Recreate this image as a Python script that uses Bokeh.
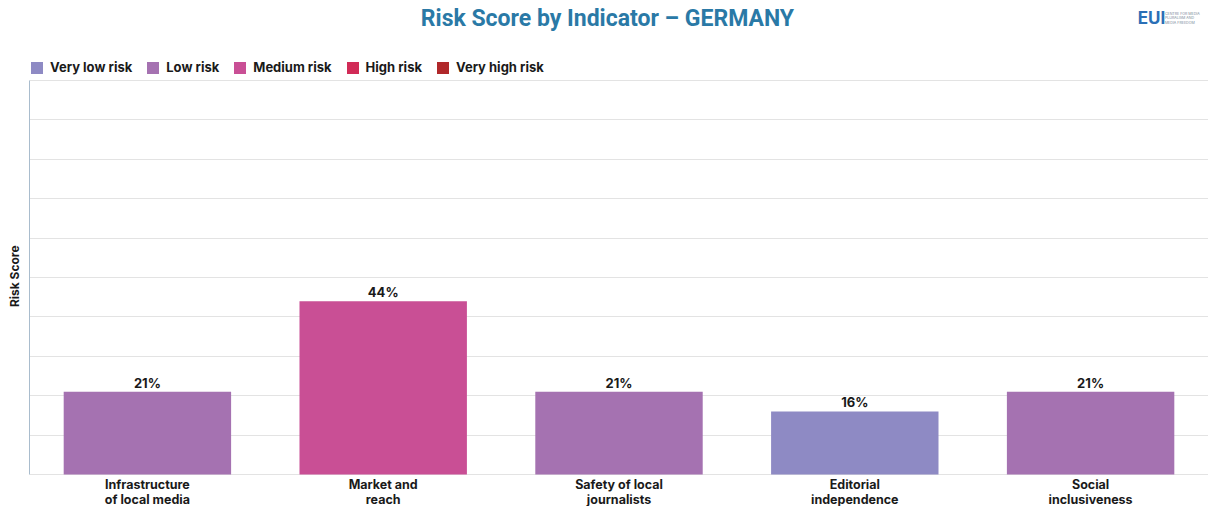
from bokeh.plotting import figure
from bokeh.models import ColumnDataSource, Range1d, FixedTicker, Legend, LegendItem, Label
from bokeh.core.properties import value
from bokeh.embed import file_html
from bokeh.resources import INLINE

# ---- data ----
indicators = ["Infrastructure of local media", "Market and reach", "Safety of local journalists",
              "Editorial independence", "Social inclusiveness"]
tick_labels = ["Infrastructure\nof local media", "Market and\nreach", "Safety of local\njournalists",
               "Editorial\nindependence", "Social\ninclusiveness"]
scores = [21, 44, 21, 16, 21]
risk_levels = ["Low risk", "Medium risk", "Low risk", "Very low risk", "Low risk"]
level_names = ["Very low risk", "Low risk", "Medium risk", "High risk", "Very high risk"]
level_colors = ["#8e8ac4", "#a572b1", "#c94f95", "#d12b57", "#b0282a"]
grid_ticks = [0, 10, 20, 30, 40, 50, 60, 70, 80, 90, 100]

FONT = "Inter"

color_of = dict(zip(level_names, level_colors))
source = ColumnDataSource(dict(ind=indicators, score=scores, level=risk_levels,
                               color=[color_of[l] for l in risk_levels],
                               lab=[f"{s}%" for s in scores], tick=tick_labels))

# frame covers the whole canvas right of the y axis; the 0-100 scale sits in its middle
p = figure(x_range=indicators, y_range=Range1d(-8.12, 120.3), width=1208, height=506,
           title=None, output_backend="svg", toolbar_location=None,
           min_border_left=29, min_border_right=0, min_border_bottom=0, min_border_top=0)
p.outline_line_color = None
p.background_fill_color = "white"
p.border_fill_color = "white"

p.vbar(x="ind", top="score", width=0.71, source=source, fill_color="color", line_color=None)

# legend proxies (zero-height, one per risk level)
items = []
for name, col in zip(level_names, level_colors):
    r = p.vbar(x=[indicators[0]], top=[0], bottom=[0], width=0.0,
               fill_color=col, line_color=None)
    items.append(LegendItem(label=name, renderers=[r]))

# value labels above bars
p.text(x="ind", y="score", text="lab", source=source, text_align="center",
       text_baseline="bottom", y_offset=-1, text_font=value(FONT), text_font_style="bold",
       text_font_size="13px", text_color="#1a1a1a")

# category labels (two lines) under the bars
p.text(x="ind", y=0, text="tick", source=source, text_align="center",
       text_baseline="top", y_offset=2, text_font=value(FONT), text_font_style="bold",
       text_font_size="12.5px", text_color="#1a1a1a", text_line_height=1.0)

legend = Legend(items=items, orientation="horizontal", location=(0, 431))
legend.label_text_font = FONT
legend.label_text_font_style = "bold"
legend.label_text_font_size = "13px"
legend.label_text_color = "#1a1a1a"
legend.glyph_width = 15
legend.glyph_height = 15
legend.label_standoff = 6
legend.spacing = 13
legend.padding = 7
legend.margin = 0
legend.border_line_color = None
legend.background_fill_alpha = 0
p.add_layout(legend)

# title and logo
p.add_layout(Label(x=2.451, y=115.74, text="Risk Score by Indicator \u2013 GERMANY",
                   text_align="center", text_baseline="middle", text_font="Roboto",
                   text_font_size="23px", text_font_style="bold", text_color="#2a79a6"))
p.add_layout(Label(x=4.70, y=115.74, text="EUI", text_align="left", text_baseline="middle",
                   text_font=FONT, text_font_style="bold", text_font_size="17px",
                   text_color="#2a6fb6"))
p.add_layout(Label(x=4.815, y=115.74, text="CENTRE FOR MEDIA\nPLURALISM AND\nMEDIA FREEDOM",
                   text_align="left", text_baseline="middle", text_font=FONT,
                   text_font_size="3.6px", text_color="#7a8a9a", text_line_height=1.1))

# y axis
p.yaxis.ticker = FixedTicker(ticks=grid_ticks)
p.yaxis.bounds = (0, 100)
p.yaxis.major_label_text_font_size = "1px"
p.yaxis.major_label_text_alpha = 0
p.yaxis.major_label_standoff = 0
p.yaxis.major_tick_line_color = None
p.yaxis.minor_tick_line_color = None
p.yaxis.axis_line_color = "#a9bccd"
p.yaxis.axis_label = "Risk Score" + "\u00a0" * 16
p.yaxis.axis_label_text_font = FONT
p.yaxis.axis_label_text_font_style = "bold"
p.yaxis.axis_label_text_font_size = "12px"
p.yaxis.axis_label_text_color = "#1a1a1a"
p.yaxis.axis_label_standoff = 2
p.ygrid.grid_line_color = "#e3e3e3"

p.xgrid.grid_line_color = None
p.xaxis.visible = False

open("out.html", "w").write(file_html(p, INLINE))
